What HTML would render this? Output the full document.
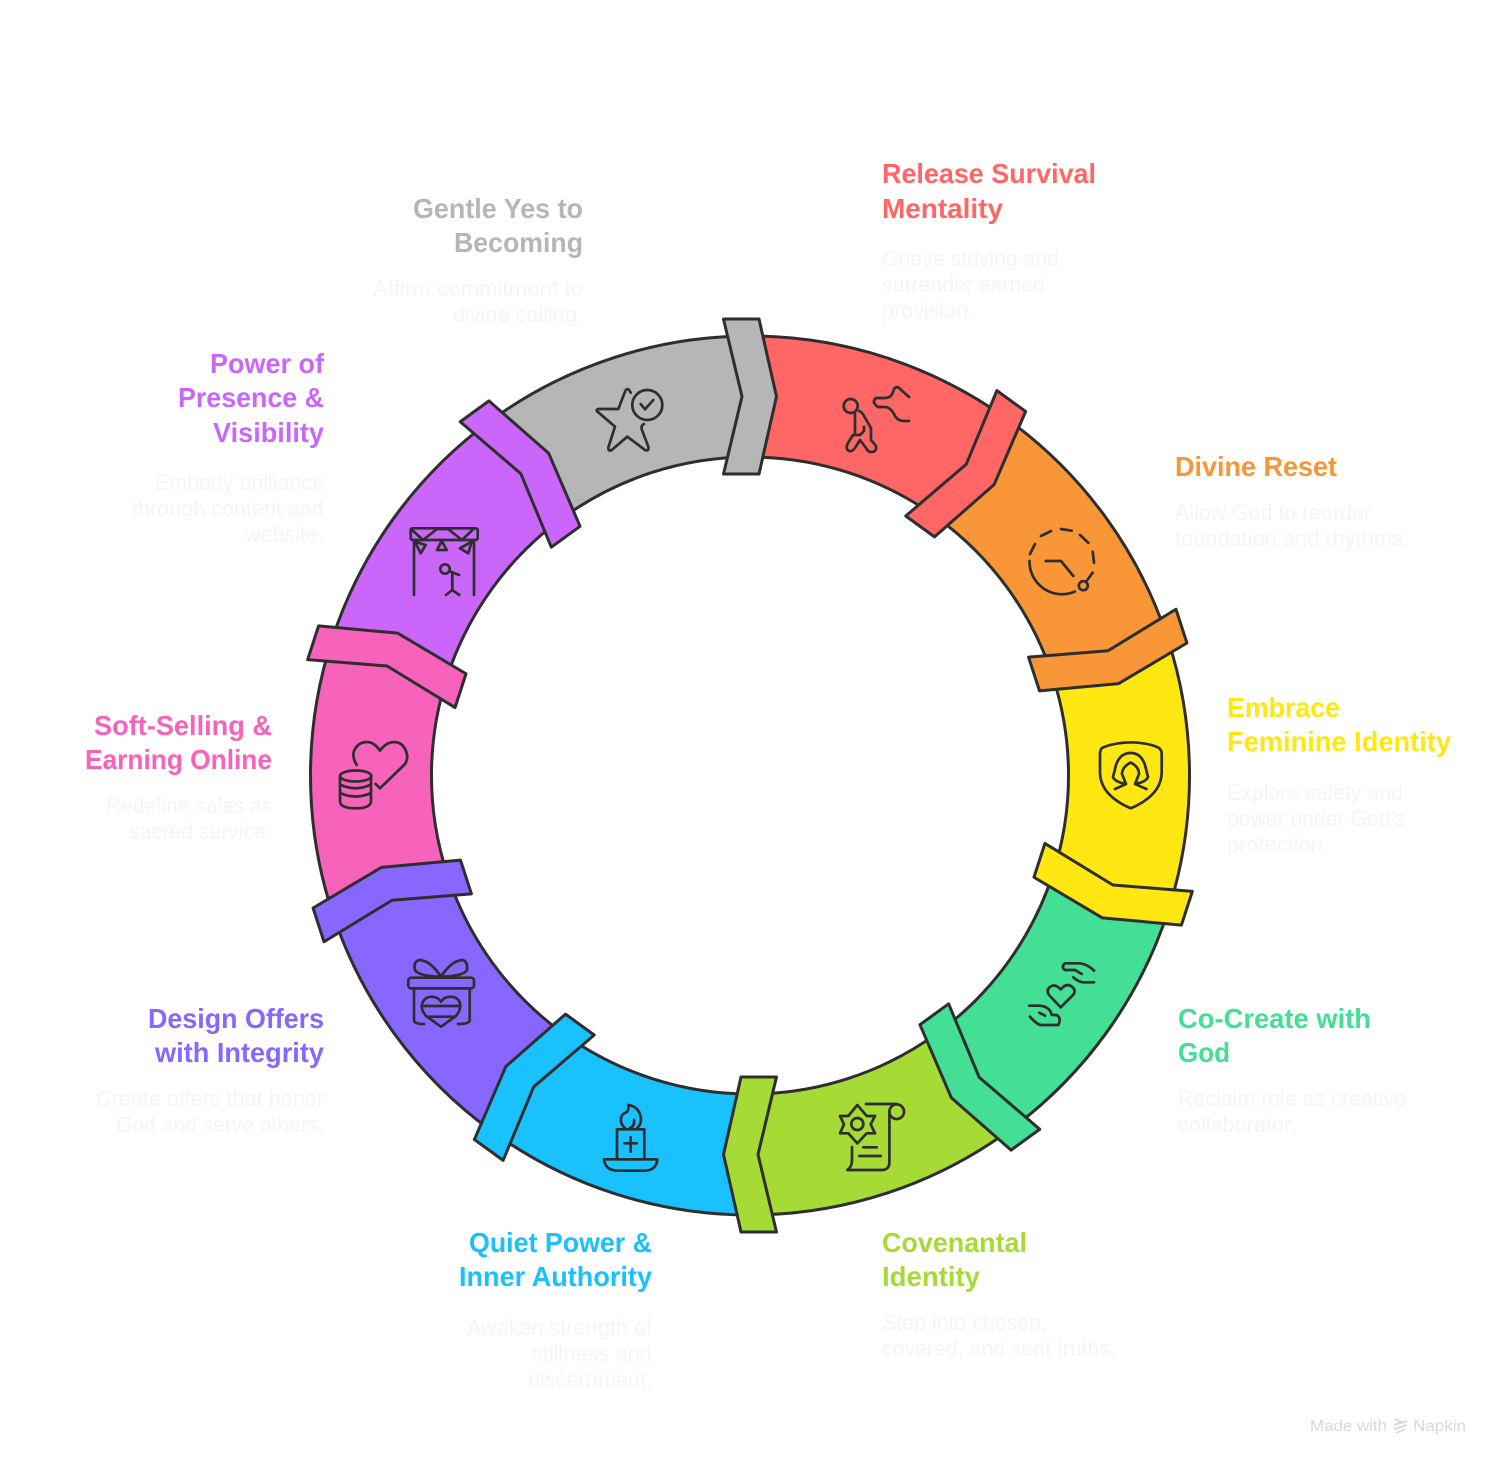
<!DOCTYPE html>
<html lang="en"><head><meta charset="utf-8"><title>Cycle diagram</title>
<style>
html,body{margin:0;padding:0;background:#fff}
svg{display:block}
text{font-family:"Liberation Sans",sans-serif}
.l{font-size:28px;font-weight:700}
.d{font-size:22px;fill:#f5f5f5}
.ic{fill:none;stroke:#2e2e2e;stroke-width:2.7;stroke-linecap:round;stroke-linejoin:round}
</style></head><body>
<svg width="1500" height="1465" viewBox="0 0 1500 1465" xmlns="http://www.w3.org/2000/svg">
<rect width="1500" height="1465" fill="#fff"/>
<defs>
<path id="sec" d="M750 336A439.5 439.5 0 0 1 1008.3 419.9L937.2 517.8A318.5 318.5 0 0 0 750 457Z"/>
<path id="tab" d="M723.5 319H759L776.5 396.5L759 474H723.5L742 396.5Z"/>
</defs>
<g stroke="#2e2e2e" stroke-width="3" stroke-linejoin="round">
<use href="#sec" fill="#FF6666"/>
<use href="#sec" transform="rotate(36 750 775.5)" fill="#F99637"/>
<use href="#sec" transform="rotate(72 750 775.5)" fill="#FFE712"/>
<use href="#sec" transform="rotate(108 750 775.5)" fill="#43DF95"/>
<use href="#sec" transform="rotate(144 750 775.5)" fill="#A6DB36"/>
<use href="#sec" transform="rotate(180 750 775.5)" fill="#1AC1FF"/>
<use href="#sec" transform="rotate(216 750 775.5)" fill="#8767FF"/>
<use href="#sec" transform="rotate(252 750 775.5)" fill="#F763BA"/>
<use href="#sec" transform="rotate(288 750 775.5)" fill="#CB66FB"/>
<use href="#sec" transform="rotate(324 750 775.5)" fill="#B6B6B6"/>
<use href="#tab" fill="#B6B6B6"/>
<use href="#tab" transform="rotate(36 750 775.5)" fill="#FF6666"/>
<use href="#tab" transform="rotate(72 750 775.5)" fill="#F99637"/>
<use href="#tab" transform="rotate(108 750 775.5)" fill="#FFE712"/>
<use href="#tab" transform="rotate(144 750 775.5)" fill="#43DF95"/>
<use href="#tab" transform="rotate(180 750 775.5)" fill="#A6DB36"/>
<use href="#tab" transform="rotate(216 750 775.5)" fill="#1AC1FF"/>
<use href="#tab" transform="rotate(252 750 775.5)" fill="#8767FF"/>
<use href="#tab" transform="rotate(288 750 775.5)" fill="#F763BA"/>
<use href="#tab" transform="rotate(324 750 775.5)" fill="#CB66FB"/>
</g>

<g class="ic">
<!-- red -->
<circle cx="850.7" cy="406" r="7"/>
<path d="M855 413V433M859 411Q862 412 864 416L871 428V440L876 446Q877 452 871 452Q868 452 866 448L860 440L855 448Q852 452 849 451Q845 449 848 443L853 435H860L864 431V427"/>
<path d="M909 397L899 388Q895 385 893 392Q891 398 885 398H876Q871 402 878 407H885Q890 407 894 414Q897 421 904 421H909"/>
<!-- orange -->
<path d="M1029.5 561A32.5 32.5 0 0 0 1075 591.5M1087.3 580L1092.7 572.7M1094 562.7L1092.7 551.7M1088.3 542.7L1080 535M1071.7 530.7L1061 529M1051 531L1041 536M1035 544L1030 554"/>
<circle cx="1083.3" cy="585.7" r="4.5"/>
<path d="M1045.7 561H1061L1073.3 576"/>
<!-- yellow -->
<path d="M1130.7 742.3Q1112 743 1102 748Q1100 750 1100 754V772Q1100 795 1130.7 808.3Q1161.7 795 1161.7 772V754Q1161.7 750 1159 748Q1150 743 1130.7 742.3Z"/>
<path d="M1126 784Q1115 782 1113 777L1116 765Q1120 753 1130.7 753Q1141 753 1145 765L1148 777Q1146 782 1135 784M1126 784L1122 774Q1122 767 1130.7 762.5Q1139 767 1139 774L1135 784M1115 789L1126 784M1146.5 789L1135 784"/>
<!-- green -->
<path d="M1060.7 1007.3L1049 995Q1046 990 1050 987Q1055 983 1060.7 989.5Q1066 983 1071 986Q1077 990 1073 995Z"/>
<path d="M1094 970.7Q1086.7 963.3 1078 963.3H1065Q1060.7 967 1065 970H1075L1081.7 974M1094 982.3H1083Q1078 981.7 1073.3 977.3"/>
<path d="M1029.3 1005.7H1040Q1050 1006.7 1051.7 1015H1056.7Q1061.7 1018.3 1058.3 1025H1040Q1035 1022.7 1030 1016.7M1039.3 1012.7L1045 1015.7"/>
<!-- lime -->
<path d="M857.3 1105L866.7 1116H875L870.7 1124.3L875 1133.3H866.7L857.3 1143.3L848.3 1133.3H840L844 1124.3L840 1116H848.3Z"/>
<circle cx="857.3" cy="1124" r="6"/>
<circle cx="896.7" cy="1111.7" r="7.3"/>
<path d="M866 1104H896.7M889.4 1111.7V1161.7Q889.4 1170 881.7 1170H847.3Q852 1167 852 1160V1147M863.3 1147.3H876.7M859.3 1156H880.7"/>
<!-- blue -->
<path d="M604 1159.3H657.3Q656.7 1170 645 1170.7H616.7Q605 1170 604 1159.3Z"/>
<rect x="617" y="1129.3" width="27.3" height="30"/>
<path d="M630.7 1137.3V1151.7M624.3 1143.3H636.7"/>
<path d="M625 1128Q620 1124 621 1118Q622 1114 625 1113Q629 1112 628.5 1105Q640 1107 641 1119Q641 1125 637 1128M630 1128Q635 1126 634 1120"/>
<!-- purple -->
<rect x="408.3" y="977.7" width="65.7" height="10.7" rx="3"/>
<path d="M414 988.3V1020Q414 1024 424 1024M469.7 988.3V1020Q469.7 1024 458 1024"/>
<path d="M441 976.7Q430 960 419 960Q413 962 415 970Q418 976 441 976.7Q452 960 463 960Q468 962 467 970Q464 976 441 976.7"/>
<path d="M441 1026.7L426 1016Q421.7 1011 421.7 1006Q423 997 432 996.7Q438 997 441 1001.7Q444 997 450 996.7Q460 997 460.3 1006Q460 1011 456 1016ZM422 1006H460M427 1016.7H455"/>
<!-- pink -->
<ellipse cx="355.7" cy="776" rx="15.7" ry="5.5"/>
<path d="M340 776V801Q340 808.3 355.7 808.3Q371 808.3 371 801V776M340 784.5Q355.7 792 371 784.5M340 793Q355.7 800 371 793"/>
<path d="M356.7 765Q352 757 354 751Q358 742 367 742Q374 742 380 750.7Q386 742 395 742Q405 743 407.3 756Q407 763 403 766L380 788.3L375.7 784"/>
<!-- violet -->
<rect x="410.7" y="528.3" width="67" height="11.7" rx="2"/>
<path d="M411 529L423 540L437 529H448L462 540L473.5 529M414 540V595M474 540V595"/>
<path d="M441.7 541L437 550H446.7ZM415 541.7L425.7 545L420.7 553.3ZM460 548.3L471.7 541.7L468.3 553.3Z"/>
<circle cx="445" cy="569" r="4.7"/>
<path d="M452.3 573V590M449 571L459 575M446 595L452.3 590L459.3 595"/>
<!-- gray -->
<path d="M630.7 392.7Q627.3 386 625 391.7L618.3 409H598.3Q595 410 598.3 412.3L615 426.7L608.3 447.7Q608.3 451.7 611.7 450L627.3 436.7L645 450Q649.3 451.7 648.3 446.7L641.7 429.3Q641 425 644 424"/>
<circle cx="647.3" cy="405" r="15"/>
<path d="M640.7 404L645 409.3L653.3 400"/>
</g>

<!-- Release -->
<text class="l" fill="#FF6666" x="882" y="183" textLength="214" lengthAdjust="spacingAndGlyphs">Release Survival</text>
<text class="l" fill="#FF6666" x="882" y="218" textLength="121" lengthAdjust="spacingAndGlyphs">Mentality</text>
<text class="d" x="882" y="266" textLength="177" lengthAdjust="spacingAndGlyphs">Grieve striving and</text>
<text class="d" x="882" y="292" textLength="163" lengthAdjust="spacingAndGlyphs">surrender earned</text>
<text class="d" x="882" y="318" textLength="92" lengthAdjust="spacingAndGlyphs">provision.</text>
<!-- Divine -->
<text class="l" fill="#F99637" x="1175" y="476" textLength="162" lengthAdjust="spacingAndGlyphs">Divine Reset</text>
<text class="d" x="1175" y="520" textLength="196" lengthAdjust="spacingAndGlyphs">Allow God to reorder</text>
<text class="d" x="1175" y="546" textLength="234" lengthAdjust="spacingAndGlyphs">foundation and rhythms.</text>
<!-- Embrace -->
<text class="l" fill="#FFE712" x="1227" y="717" textLength="113" lengthAdjust="spacingAndGlyphs">Embrace</text>
<text class="l" fill="#FFE712" x="1227" y="751" textLength="224" lengthAdjust="spacingAndGlyphs">Feminine Identity</text>
<text class="d" x="1227" y="800" textLength="176" lengthAdjust="spacingAndGlyphs">Explore safety and</text>
<text class="d" x="1227" y="826" textLength="178" lengthAdjust="spacingAndGlyphs">power under God's</text>
<text class="d" x="1227" y="852" textLength="102" lengthAdjust="spacingAndGlyphs">protection.</text>
<!-- Co-Create -->
<text class="l" fill="#43DF95" x="1178" y="1028" textLength="193" lengthAdjust="spacingAndGlyphs">Co-Create with</text>
<text class="l" fill="#43DF95" x="1178" y="1062" textLength="52" lengthAdjust="spacingAndGlyphs">God</text>
<text class="d" x="1178" y="1106" textLength="228" lengthAdjust="spacingAndGlyphs">Reclaim role as creative</text>
<text class="d" x="1178" y="1132" textLength="118" lengthAdjust="spacingAndGlyphs">collaborator.</text>
<!-- Covenantal -->
<text class="l" fill="#A6DB36" x="882" y="1252" textLength="145" lengthAdjust="spacingAndGlyphs">Covenantal</text>
<text class="l" fill="#A6DB36" x="882" y="1286" textLength="98" lengthAdjust="spacingAndGlyphs">Identity</text>
<text class="d" x="882" y="1330" textLength="165" lengthAdjust="spacingAndGlyphs">Step into chosen,</text>
<text class="d" x="882" y="1356" textLength="234" lengthAdjust="spacingAndGlyphs">covered, and sent truths.</text>
<!-- Quiet -->
<text class="l" fill="#1AC1FF" x="469" y="1252" textLength="183" lengthAdjust="spacingAndGlyphs">Quiet Power &amp;</text>
<text class="l" fill="#1AC1FF" x="459" y="1286" textLength="193" lengthAdjust="spacingAndGlyphs">Inner Authority</text>
<text class="d" x="467" y="1335" textLength="185" lengthAdjust="spacingAndGlyphs">Awaken strength of</text>
<text class="d" x="532" y="1361" textLength="120" lengthAdjust="spacingAndGlyphs">stillness and</text>
<text class="d" x="528" y="1387" textLength="124" lengthAdjust="spacingAndGlyphs">discernment.</text>
<!-- Design -->
<text class="l" fill="#8767FF" x="148" y="1028" textLength="176" lengthAdjust="spacingAndGlyphs">Design Offers</text>
<text class="l" fill="#8767FF" x="155" y="1062" textLength="169" lengthAdjust="spacingAndGlyphs">with Integrity</text>
<text class="d" x="96" y="1106" textLength="228" lengthAdjust="spacingAndGlyphs">Create offers that honor</text>
<text class="d" x="116" y="1132" textLength="208" lengthAdjust="spacingAndGlyphs">God and serve others.</text>
<!-- Soft -->
<text class="l" fill="#F763BA" x="94" y="735" textLength="178" lengthAdjust="spacingAndGlyphs">Soft-Selling &amp;</text>
<text class="l" fill="#F763BA" x="85" y="769" textLength="187" lengthAdjust="spacingAndGlyphs">Earning Online</text>
<text class="d" x="106" y="813" textLength="166" lengthAdjust="spacingAndGlyphs">Redefine sales as</text>
<text class="d" x="129" y="839" textLength="143" lengthAdjust="spacingAndGlyphs">sacred service.</text>
<!-- Power -->
<text class="l" fill="#CB66FB" x="210" y="373" textLength="114" lengthAdjust="spacingAndGlyphs">Power of</text>
<text class="l" fill="#CB66FB" x="178" y="407" textLength="146" lengthAdjust="spacingAndGlyphs">Presence &amp;</text>
<text class="l" fill="#CB66FB" x="213" y="442" textLength="111" lengthAdjust="spacingAndGlyphs">Visibility</text>
<text class="d" x="155" y="490" textLength="169" lengthAdjust="spacingAndGlyphs">Embody brilliance</text>
<text class="d" x="132" y="516" textLength="192" lengthAdjust="spacingAndGlyphs">through content and</text>
<text class="d" x="245" y="542" textLength="79" lengthAdjust="spacingAndGlyphs">website.</text>
<!-- Gentle -->
<text class="l" fill="#B6B6B6" x="413" y="218" textLength="170" lengthAdjust="spacingAndGlyphs">Gentle Yes to</text>
<text class="l" fill="#B6B6B6" x="454" y="252" textLength="129" lengthAdjust="spacingAndGlyphs">Becoming</text>
<text class="d" x="373" y="296" textLength="210" lengthAdjust="spacingAndGlyphs">Affirm commitment to</text>
<text class="d" x="453" y="322" textLength="130" lengthAdjust="spacingAndGlyphs">divine calling.</text>
<!-- footer -->
<text x="1310" y="1431" font-size="15.5" fill="#d9d9d9" textLength="77" lengthAdjust="spacingAndGlyphs">Made with</text>
<text x="1413" y="1431" font-size="15.5" fill="#d9d9d9" textLength="53" lengthAdjust="spacingAndGlyphs">Napkin</text>
<path d="M1395 1419L1401 1422M1394 1425L1407 1421M1394 1429L1407 1425M1396 1433L1405 1429" stroke="#d9d9d9" stroke-width="2" fill="none"/>
</svg>
</body></html>
